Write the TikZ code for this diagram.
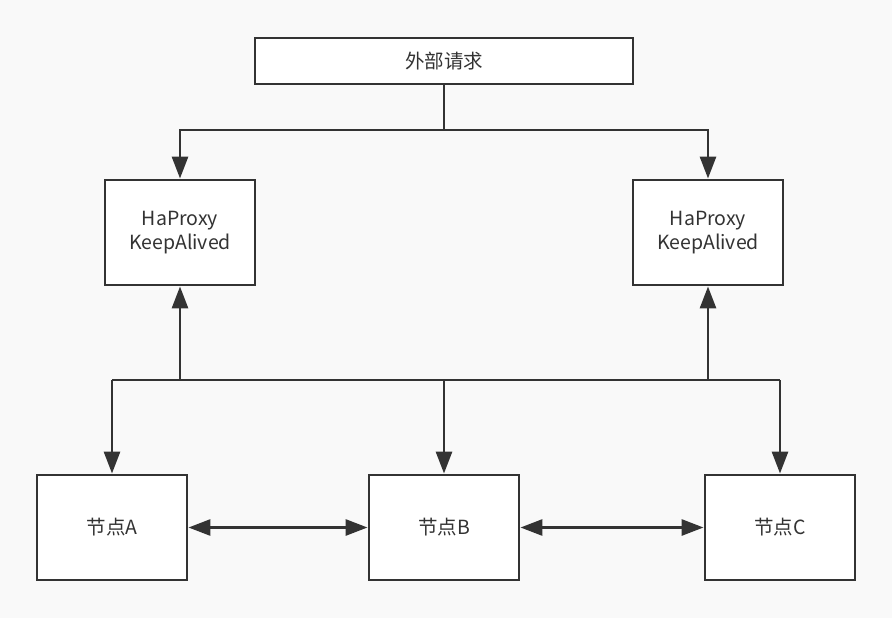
\documentclass[tikz,border=0pt]{standalone}
\usepackage{fontspec}
\setmainfont{Noto Sans CJK SC}
\usetikzlibrary{arrows.meta,positioning}
\definecolor{linegray}{HTML}{333333}
\definecolor{bggray}{HTML}{F9F9F9}

\begin{document}
\begin{tikzpicture}[x=1pt,y=-1pt,>={Triangle[length=22pt,width=16pt]},
                    line width=2.9pt,draw=linegray,text=linegray]
  \tikzstyle{box}=[draw=linegray,fill=white,line width=2.9pt,align=center,
                   minimum width=150pt,minimum height=105pt,inner sep=0pt,
                   font=\fontsize{19.5}{24}\selectfont]

  \fill[bggray] (0,0) rectangle (892,618);
  \useasboundingbox (0,0) rectangle (892,618);

  \node[box,minimum width=378pt,minimum height=46pt] (req) at (444,61) {外部请求};
  \node[box]           (hpL) at (180,232.5) {HaProxy\\KeepAlived};
  \node[box]           (hpR) at (708,232.5) {HaProxy\\KeepAlived};
  \node[box]           (nA)  at (112,527.5) {节点A};
  \node[box]           (nB)  at (444,527.5) {节点B};
  \node[box]           (nC)  at (780,527.5) {节点C};

  \coordinate (split) at (444,130);
  \coordinate (bus)   at (444,380);

  % request fan-out
  \draw (req.south) -- (split);
  \draw[->] (split) -| (hpL.north);
  \draw[->] (split) -| (hpR.north);

  % shared bus
  \draw (nA.north |- bus) -- (nC.north |- bus);
  \draw[->] (hpL.south |- bus) -- (hpL.south);
  \draw[->] (hpR.south |- bus) -- (hpR.south);
  \draw[->] (nA.north |- bus) -- (nA.north);
  \draw[->] (bus) -- (nB.north);
  \draw[->] (nC.north |- bus) -- (nC.north);

  % between nodes
  \draw[<->] (nA.east) -- (nB.west);
  \draw[<->] (nB.east) -- (nC.west);
\end{tikzpicture}
\end{document}
